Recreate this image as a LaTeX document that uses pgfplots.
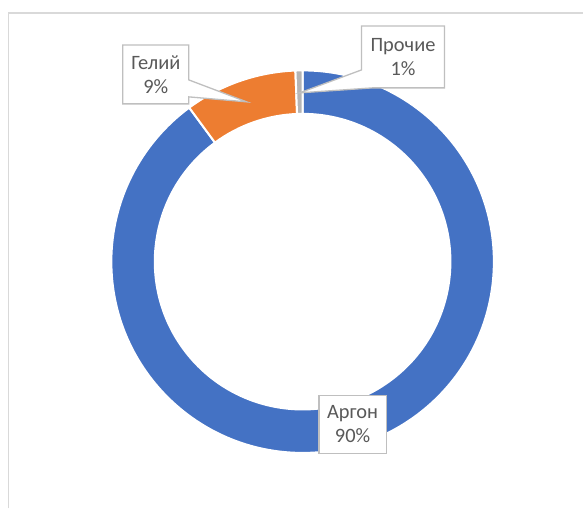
\documentclass[border=0pt]{standalone}
\usepackage{fontspec}
\setmainfont{Carlito}
\usepackage{pgfplots}
\usepackage{pgfplotstable}
\pgfplotsset{compat=1.18}
\definecolor{cblue}{HTML}{4472C4}
\definecolor{corange}{HTML}{ED7D31}
\definecolor{cgray}{HTML}{B5B5B5}
\definecolor{tgray}{HTML}{595959}
\definecolor{bgray}{HTML}{BFBFBF}
\definecolor{fgray}{HTML}{D9D9D9}
\pgfplotstableread[col sep=comma]{
name,value,pct
Аргон,89.9,90
Гелий,9.5,9
Прочие,0.6,1
}\gasdata
\newcommand\sector[3]{%
  \fill[#3, draw=white, line width=2bp]
    (axis cs:{303+191.5*cos(#1)},{247+191.5*sin(#1)})
    arc[start angle=#1, end angle=#2, radius=191.5bp]
    -- (axis cs:{303+148*cos(#2)},{247+148*sin(#2)})
    arc[start angle=#2, end angle=#1, radius=148bp] -- cycle;}
\begin{document}
\begin{tikzpicture}
\pgfplotstablegetelem{0}{value}\of\gasdata \let\va\pgfplotsretval
\pgfplotstablegetelem{1}{value}\of\gasdata \let\vb\pgfplotsretval
\pgfplotstablegetelem{2}{value}\of\gasdata \let\vc\pgfplotsretval
\pgfplotstablegetelem{0}{name}\of\gasdata \let\na\pgfplotsretval
\pgfplotstablegetelem{1}{name}\of\gasdata \let\nb\pgfplotsretval
\pgfplotstablegetelem{2}{name}\of\gasdata \let\nc\pgfplotsretval
\pgfplotstablegetelem{0}{pct}\of\gasdata \let\pa\pgfplotsretval
\pgfplotstablegetelem{1}{pct}\of\gasdata \let\pb\pgfplotsretval
\pgfplotstablegetelem{2}{pct}\of\gasdata \let\pc\pgfplotsretval
\pgfmathsetmacro\aZ{90}
\pgfmathsetmacro\aA{90-3.6*\va}
\pgfmathsetmacro\aB{\aA-3.6*\vb}
\pgfmathsetmacro\aC{\aB-3.6*\vc}
\begin{axis}[
  width=584bp, height=509bp, scale only axis,
  xmin=0, xmax=584, ymin=0, ymax=509,
  enlargelimits=false, hide axis, clip=false,
]
\path (axis cs:0,0) rectangle (axis cs:584,509);
% frame
\draw[fgray, line width=1.5bp] (axis cs:8.5,0) -- (axis cs:8.5,496) -- (axis cs:584,496);
% ring
\sector{\aZ}{\aA}{cblue}
\sector{\aA}{\aB}{corange}
\sector{\aB}{\aC}{cgray}
% callouts
\begin{scope}[every node/.style={align=center, text=tgray, font=\fontsize{20.5}{24}\selectfont}]
\filldraw[fill=white, draw=bgray, line width=1.3bp]
  (axis cs:123,464) -- (axis cs:189,464) -- (axis cs:189,429) -- (axis cs:247,407)
  -- (axis cs:189,412) -- (axis cs:189,405) -- (axis cs:123,405) -- cycle;
\node at (axis cs:156,434.5) {\nb\\\pb\%};
\filldraw[fill=white, draw=bgray, line width=1.3bp]
  (axis cs:362,483) -- (axis cs:445,483) -- (axis cs:445,421) -- (axis cs:373,421)
  -- (axis cs:300,416) -- (axis cs:362,439) -- cycle;
\node at (axis cs:403.5,452) {\nc\\\pc\%};
\filldraw[fill=white, draw=bgray, line width=1.3bp]
  (axis cs:319.5,113) rectangle (axis cs:387,55);
\node at (axis cs:353,84) {\na\\\pa\%};
\end{scope}
\end{axis}
\end{tikzpicture}
\end{document}
